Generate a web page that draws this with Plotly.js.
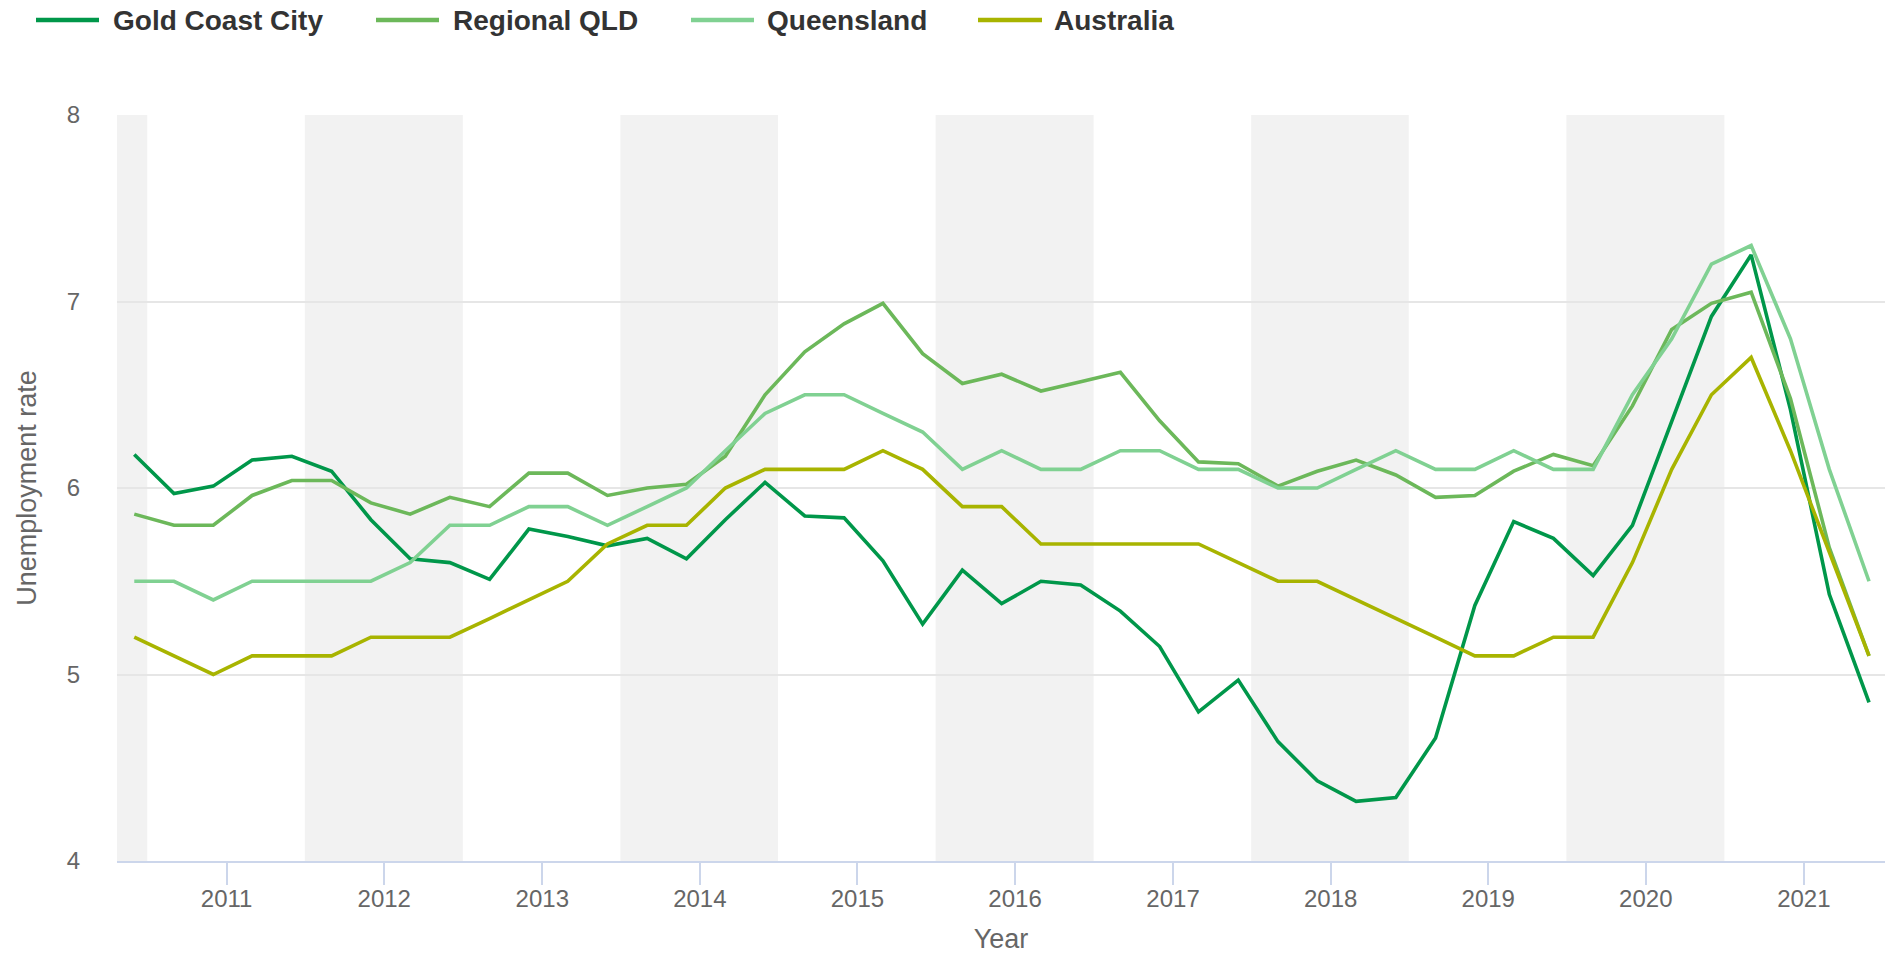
<!DOCTYPE html>
<html>
<head>
<meta charset="utf-8">
<script src="https://cdn.plot.ly/plotly-3.0.1.min.js"></script>
<style>
  html, body { margin: 0; padding: 0; background: #ffffff; }
  #chart { width: 1885px; height: 954px; }
</style>
</head>
<body>
<div id="chart"></div>
<script>
// Quarterly observation dates
const dates = [
  '2010-06-01','2010-09-01','2010-12-01','2011-03-01','2011-06-01','2011-09-01','2011-12-01',
  '2012-03-01','2012-06-01','2012-09-01','2012-12-01','2013-03-01','2013-06-01','2013-09-01',
  '2013-12-01','2014-03-01','2014-06-01','2014-09-01','2014-12-01','2015-03-01','2015-06-01',
  '2015-09-01','2015-12-01','2016-03-01','2016-06-01','2016-09-01','2016-12-01','2017-03-01',
  '2017-06-01','2017-09-01','2017-12-01','2018-03-01','2018-06-01','2018-09-01','2018-12-01',
  '2019-03-01','2019-06-01','2019-09-01','2019-12-01','2020-03-01','2020-06-01','2020-09-01',
  '2020-12-01','2021-03-01','2021-06-01'
];

const seriesNames = ['Gold Coast City', 'Regional QLD', 'Queensland', 'Australia'];

const goldCoastCity = [
  6.18, 5.97, 6.01, 6.15, 6.17, 6.09, 5.83, 5.62, 5.60, 5.51,
  5.78, 5.74, 5.69, 5.73, 5.62, 5.83, 6.03, 5.85, 5.84, 5.61,
  5.27, 5.56, 5.38, 5.50, 5.48, 5.34, 5.15, 4.80, 4.97, 4.64,
  4.43, 4.32, 4.34, 4.66, 5.37, 5.82, 5.73, 5.53, 5.80, 6.36,
  6.92, 7.25, 6.42, 5.43, 4.85
];

const regionalQLD = [
  5.86, 5.80, 5.80, 5.96, 6.04, 6.04, 5.92, 5.86, 5.95, 5.90,
  6.08, 6.08, 5.96, 6.00, 6.02, 6.17, 6.50, 6.73, 6.88, 6.99,
  6.72, 6.56, 6.61, 6.52, 6.57, 6.62, 6.36, 6.14, 6.13, 6.01,
  6.09, 6.15, 6.07, 5.95, 5.96, 6.09, 6.18, 6.12, 6.44, 6.85,
  6.99, 7.05, 6.48, 5.68, 5.10
];

const queensland = [
  5.5, 5.5, 5.4, 5.5, 5.5, 5.5, 5.5, 5.6, 5.8, 5.8,
  5.9, 5.9, 5.8, 5.9, 6.0, 6.2, 6.4, 6.5, 6.5, 6.4,
  6.3, 6.1, 6.2, 6.1, 6.1, 6.2, 6.2, 6.1, 6.1, 6.0,
  6.0, 6.1, 6.2, 6.1, 6.1, 6.2, 6.1, 6.1, 6.5, 6.8,
  7.2, 7.3, 6.8, 6.1, 5.5
];

const australia = [
  5.2, 5.1, 5.0, 5.1, 5.1, 5.1, 5.2, 5.2, 5.2, 5.3,
  5.4, 5.5, 5.7, 5.8, 5.8, 6.0, 6.1, 6.1, 6.1, 6.2,
  6.1, 5.9, 5.9, 5.7, 5.7, 5.7, 5.7, 5.7, 5.6, 5.5,
  5.5, 5.4, 5.3, 5.2, 5.1, 5.1, 5.2, 5.2, 5.6, 6.1,
  6.5, 6.7, 6.2, 5.65, 5.1
];

// Shaded band centre years (alternate band shading)
const bandYears = [2010, 2012, 2014, 2016, 2018, 2020];

// ---------- styling ----------
const colors = ['#00974A', '#6CB85A', '#80D192', '#A8B400'];
const allValues = [goldCoastCity, regionalQLD, queensland, australia];
const FONT = '"Liberation Sans", Arial, Helvetica, sans-serif';

const W = 1885, H = 954;
const M = {l: 117, r: 0, t: 115, b: 93};
const plotW = W - M.l - M.r, plotH = H - M.t - M.b;
const xRange = ['2010-04-22', '2021-07-08'];

const traces = allValues.map((vals, i) => ({
  type: 'scatter',
  mode: 'lines',
  name: seriesNames[i],
  x: dates,
  y: vals,
  line: {color: colors[i], width: 3.6},
  showlegend: false,
  hoverinfo: 'x+y+name'
}));

const shapes = [];
bandYears.forEach(y => {
  const x0 = (y === bandYears[0]) ? xRange[0] : (y - 1) + '-07-01';
  shapes.push({
    type: 'rect', xref: 'x', yref: 'paper',
    x0: x0, x1: y + '-07-01', y0: 0, y1: 1,
    fillcolor: '#f2f2f2', line: {width: 0}, layer: 'below'
  });
});

// Custom legend (Highcharts-style) along the top
const px2x = px => (px - M.l) / plotW;
const py2y = py => (H - M.b - py) / plotH;
const legendPos = [
  {line: [36, 99], text: 111},
  {line: [376, 439], text: 451},
  {line: [691, 754], text: 765},
  {line: [978, 1042], text: 1052}
];
const legendY = 20;
const annotations = [];
seriesNames.forEach((name, i) => {
  const p = legendPos[i];
  shapes.push({
    type: 'line', xref: 'paper', yref: 'paper',
    x0: px2x(p.line[0]), x1: px2x(p.line[1]),
    y0: py2y(legendY), y1: py2y(legendY),
    line: {color: colors[i], width: 4.5}
  });
  annotations.push({
    xref: 'paper', yref: 'paper',
    x: px2x(p.text), y: py2y(legendY + 1),
    xanchor: 'left', yanchor: 'middle',
    text: '<b>' + name + '</b>', showarrow: false,
    font: {family: FONT, size: 28, color: '#333333'}
  });
});

const layout = {
  width: W, height: H, autosize: false,
  margin: M,
  paper_bgcolor: '#ffffff', plot_bgcolor: '#ffffff',
  font: {family: FONT, color: '#666666'},
  showlegend: false,
  xaxis: {
    type: 'date',
    range: xRange,
    tick0: '2011-01-01', dtick: 'M12', tickformat: '%Y',
    showgrid: false, zeroline: false,
    showline: true, linecolor: '#ccd6eb', linewidth: 2,
    ticks: 'outside', ticklen: 22, tickwidth: 1.5, tickcolor: '#ccd6eb',
    ticklabelstandoff: -7,
    tickfont: {family: FONT, size: 24, color: '#666666'},
    title: {text: 'Year', font: {family: FONT, size: 27, color: '#666666'}, standoff: 29}
  },
  yaxis: {
    range: [4, 8], dtick: 1, tick0: 4,
    showgrid: true, gridcolor: '#e6e6e6', gridwidth: 2,
    zeroline: false, showline: false, ticks: '',
    ticklabelstandoff: 36,
    tickfont: {family: FONT, size: 24, color: '#666666'},
    title: {text: 'Unemployment rate', font: {family: FONT, size: 27, color: '#666666'}, standoff: 22}
  },
  shapes: shapes,
  annotations: annotations
};

Plotly.newPlot('chart', traces, layout, {displayModeBar: false, staticPlot: false});
</script>
</body>
</html>
